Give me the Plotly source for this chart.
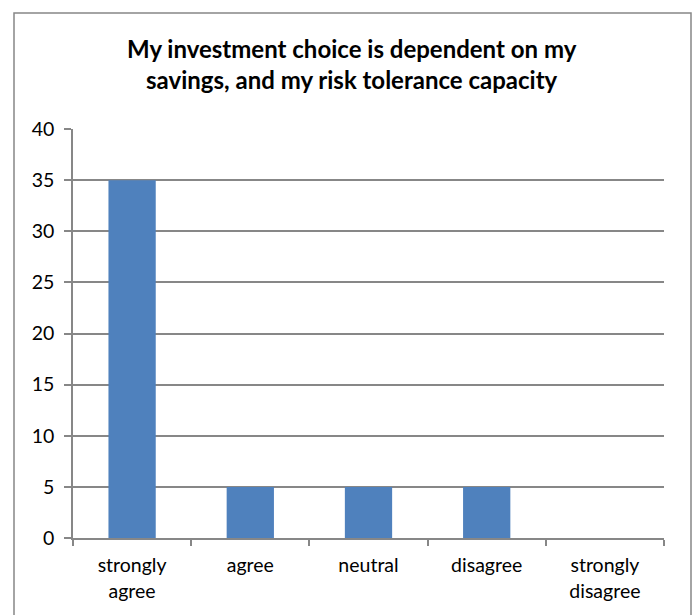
import plotly.graph_objects as go

# Survey responses
categories = ["strongly<br>agree", "agree", "neutral", "disagree", "strongly<br>disagree"]
counts = [35, 5, 5, 5, 0]
y_ticks = [0, 5, 10, 15, 20, 25, 30, 35, 40]

W, H = 695, 615
L, R, T, B = 73, 31, 129, 77
pw, ph = W - L - R, H - T - B

def px_x(px):
    return (px - L) / pw

def px_y(py):
    return (H - B - py) / ph

grey = "#878787"
font = "Lato, 'Open Sans', sans-serif"

fig = go.Figure(
    go.Bar(
        x=categories,
        y=counts,
        width=0.4,
        marker=dict(color="#4F81BD", line=dict(width=0)),
    )
)

fig.update_layout(
    width=W,
    height=H,
    margin=dict(l=L, r=R, t=T, b=B),
    paper_bgcolor="white",
    plot_bgcolor="white",
    showlegend=False,
    font=dict(family=font, size=19.5, color="black"),
    annotations=[
        dict(
            text="<b>My investment choice is dependent on my<br>savings, and my risk tolerance capacity</b>",
            xref="paper", yref="paper",
            x=px_x(352), y=px_y(32),
            xanchor="center", yanchor="top",
            showarrow=False,
            font=dict(family=font, size=24, color="black"),
            align="center",
        )
    ],
    shapes=[
        dict(
            type="rect", xref="paper", yref="paper",
            x0=px_x(14), x1=px_x(691), y0=px_y(640), y1=px_y(13),
            line=dict(color=grey, width=1.5), fillcolor="rgba(0,0,0,0)",
            layer="below",
        )
    ],
)

fig.update_xaxes(
    type="category",
    range=[-0.5, 4.5],
    tickson="boundaries",
    ticks="outside",
    ticklen=6,
    tickcolor=grey,
    tickwidth=1.5,
    showline=True,
    linecolor=grey,
    linewidth=1.5,
    showgrid=False,
    ticklabelstandoff=9,
    tickfont=dict(family=font, size=19.5, color="black"),
    fixedrange=True,
)

fig.update_yaxes(
    range=[0, 40],
    tickvals=y_ticks,
    ticks="outside",
    ticklen=7,
    tickcolor=grey,
    tickwidth=1.5,
    showline=True,
    linecolor=grey,
    linewidth=1.5,
    showgrid=True,
    gridcolor=grey,
    gridwidth=1.5,
    zeroline=False,
    ticklabelstandoff=6,
    tickfont=dict(family=font, size=19.5, color="black"),
    fixedrange=True,
)

fig.write_html("out.html")
